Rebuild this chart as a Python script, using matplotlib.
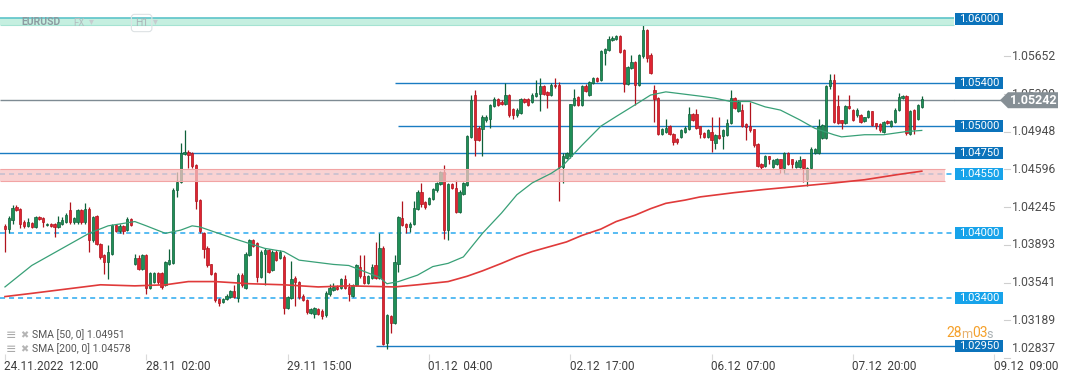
import numpy as np
import matplotlib.pyplot as plt
from matplotlib.patches import Rectangle, Polygon
from matplotlib.transforms import blended_transform_factory

plt.rcParams['font.family'] = ['Roboto', 'DejaVu Sans']

# EURUSD H1 bars from 24.11.2022 12:00, prices in pips above 1.0000
opens = [407, 404, 412, 425, 423, 411, 407, 410, 406, 415,
         414, 408, 409, 409, 406, 409, 411, 422, 411, 411,
         422, 411, 423, 394, 416, 390, 380, 373, 381, 408,
         402, 407, 403, 413, 371, 377, 367, 380, 349, 355,
         363, 363, 352, 371, 372, 440, 448, 474, 476, 475,
         464, 431, 400, 386, 371, 363, 339, 336, 339, 341,
         346, 340, 361, 349, 380, 394, 391, 359, 381, 384,
         366, 383, 377, 378, 330, 340, 358, 355, 342, 338,
         326, 325, 329, 328, 324, 343, 347, 350, 349, 357,
         350, 342, 352, 369, 360, 354, 358, 370, 358, 386,
         298, 323, 316, 371, 414, 409, 406, 409, 423, 439,
         429, 427, 432, 440, 446, 457, 403, 446, 442, 420,
         437, 445, 490, 529, 498, 497, 506, 507, 519, 525,
         523, 521, 529, 516, 510, 512, 525, 525, 523, 528,
         530, 537, 532, 529, 538, 538, 462, 470, 472, 520,
         527, 520, 537, 529, 540, 545, 543, 568, 571, 580,
         581, 584, 571, 539, 554, 560, 538, 565, 590, 566,
         534, 526, 493, 495, 500, 493, 488, 490, 495, 497,
         511, 511, 500, 494, 490, 495, 484, 492, 491, 492,
         503, 526, 514, 515, 502, 500, 497, 483, 465, 463,
         472, 462, 465, 469, 461, 475, 469, 462, 462, 469,
         451, 461, 475, 475, 489, 489, 537, 543, 519, 506,
         503, 519, 515, 510, 510, 505, 509, 514, 503, 502,
         495, 505, 500, 504, 515, 526, 528, 493, 515, 507,
         518]
highs = [409, 416, 426, 426, 424, 412, 414, 411, 416, 416,
         415, 410, 410, 410, 416, 415, 419, 429, 415, 423,
         423, 428, 425, 416, 417, 391, 381, 389, 409, 409,
         409, 408, 415, 414, 381, 380, 381, 381, 364, 364,
         364, 364, 374, 385, 442, 457, 484, 496, 478, 476,
         465, 432, 401, 388, 371, 364, 340, 340, 343, 347,
         352, 363, 363, 383, 395, 395, 392, 384, 386, 385,
         384, 384, 384, 380, 342, 374, 360, 356, 343, 339,
         330, 331, 330, 329, 346, 353, 354, 352, 358, 361,
         354, 353, 371, 380, 380, 361, 371, 392, 400, 388,
         325, 324, 380, 416, 430, 410, 411, 430, 440, 447,
         430, 434, 442, 448, 458, 464, 447, 447, 450, 440,
         448, 492, 529, 534, 500, 510, 510, 521, 527, 526,
         524, 540, 530, 517, 517, 526, 526, 526, 531, 543,
         545, 538, 533, 540, 545, 541, 475, 476, 521, 535,
         528, 538, 539, 542, 546, 546, 571, 573, 584, 584,
         585, 585, 572, 556, 566, 561, 567, 594, 591, 568,
         538, 527, 498, 507, 501, 494, 489, 497, 500, 518,
         512, 516, 500, 495, 497, 509, 493, 509, 497, 507,
         534, 527, 524, 521, 503, 523, 497, 484, 466, 473,
         472, 469, 470, 469, 476, 476, 469, 468, 472, 469,
         462, 481, 480, 507, 502, 538, 549, 549, 529, 506,
         520, 529, 516, 517, 511, 509, 515, 514, 503, 503,
         505, 506, 506, 517, 531, 529, 529, 515, 516, 521,
         528]
lows = [383, 400, 409, 421, 405, 405, 406, 405, 405, 412,
        406, 407, 406, 397, 405, 408, 410, 409, 409, 409,
        409, 409, 383, 392, 389, 376, 362, 357, 380, 401,
        400, 399, 402, 407, 370, 366, 366, 343, 348, 354,
        353, 348, 351, 370, 371, 434, 447, 473, 461, 461,
        423, 400, 377, 369, 361, 336, 332, 335, 338, 340,
        340, 336, 350, 348, 379, 387, 355, 358, 352, 363,
        365, 374, 376, 325, 329, 339, 332, 339, 337, 325,
        325, 321, 324, 320, 322, 342, 346, 347, 348, 348,
        337, 341, 351, 358, 353, 353, 357, 357, 357, 296,
        292, 307, 315, 364, 407, 400, 401, 408, 422, 425,
        423, 426, 431, 439, 445, 395, 394, 441, 419, 419,
        436, 444, 489, 472, 486, 472, 504, 498, 518, 519,
        520, 520, 509, 507, 509, 511, 522, 519, 522, 527,
        514, 529, 517, 528, 536, 430, 447, 469, 470, 519,
        519, 519, 532, 528, 539, 541, 542, 557, 570, 579,
        580, 568, 532, 538, 553, 520, 537, 564, 560, 549,
        504, 492, 492, 494, 492, 482, 483, 489, 494, 496,
        505, 497, 489, 489, 489, 476, 479, 488, 479, 491,
        502, 516, 513, 499, 487, 495, 481, 462, 460, 462,
        465, 461, 464, 456, 456, 464, 461, 461, 461, 448,
        444, 460, 474, 474, 488, 488, 535, 503, 502, 497,
        502, 516, 505, 509, 503, 504, 508, 500, 497, 495,
        494, 502, 499, 503, 514, 525, 492, 492, 493, 506,
        517]
closes = [404, 414, 424, 422, 409, 407, 411, 406, 415, 413,
          411, 409, 407, 406, 411, 412, 417, 411, 414, 422,
          411, 423, 394, 415, 390, 378, 373, 383, 408, 402,
          407, 402, 413, 408, 377, 367, 380, 349, 363, 363,
          355, 350, 373, 375, 440, 448, 475, 476, 473, 463,
          430, 402, 385, 370, 362, 338, 335, 339, 342, 346,
          341, 361, 352, 381, 394, 388, 359, 383, 384, 364,
          383, 375, 383, 330, 341, 357, 355, 341, 338, 327,
          329, 330, 325, 323, 344, 349, 350, 348, 357, 349,
          343, 352, 370, 360, 354, 360, 369, 358, 386, 297,
          324, 316, 373, 415, 408, 406, 409, 424, 439, 427,
          425, 433, 441, 447, 457, 403, 446, 442, 420, 439,
          447, 491, 524, 487, 487, 509, 509, 520, 525, 520,
          521, 529, 510, 510, 515, 525, 523, 520, 529, 531,
          537, 530, 529, 538, 537, 462, 472, 475, 521, 526,
          520, 537, 533, 541, 545, 542, 570, 572, 581, 582,
          584, 569, 539, 555, 560, 538, 566, 590, 564, 550,
          525, 493, 497, 498, 493, 485, 485, 496, 498, 511,
          506, 498, 493, 490, 496, 487, 492, 489, 496, 503,
          526, 517, 523, 500, 499, 496, 482, 463, 462, 472,
          469, 468, 469, 461, 475, 465, 465, 467, 468, 461,
          461, 479, 479, 500, 501, 537, 543, 504, 503, 503,
          519, 517, 506, 515, 504, 509, 514, 501, 500, 496,
          504, 503, 505, 515, 527, 528, 494, 514, 497, 520,
          525]

# moving averages (bar index, pips)
sma50_bars = [0, 7, 16, 22, 27, 34, 37, 42, 46, 49, 51, 60, 68, 73, 77, 86, 90,
              98, 100, 103, 108, 112, 116, 120, 125, 130, 134, 138, 143, 146,
              151, 156, 160, 165, 169, 173, 182, 186, 190, 195, 199, 203, 208,
              212, 217, 219, 225, 230, 232, 236, 240]
sma50_vals = [350, 370, 388, 400, 407, 411, 407, 400, 403, 407, 406, 395, 386,
              383, 375, 371, 370, 359, 353, 355, 361, 369, 372, 378, 400, 419,
              436, 447, 456, 463, 482, 500, 509, 520, 529, 532, 528, 526, 523,
              523, 518, 515, 506, 498, 492, 490, 492, 492, 493, 495, 496]
sma200_bars = [0, 7, 16, 25, 34, 42, 48, 55, 64, 73, 82, 90, 102, 108, 116, 121,
               125, 130, 134, 138, 143, 147, 151, 156, 160, 165, 169, 173, 178,
               182, 191, 199, 208, 217, 225, 234, 240]
sma200_vals = [341, 344, 348, 352, 351, 352, 355, 355, 353, 352, 350, 351, 350,
               352, 355, 360, 365, 372, 378, 383, 388, 392, 398, 404, 411, 417,
               423, 428, 431, 434, 438, 441, 444, 447, 450, 455, 458]

x_label_bars = [0, 37, 74, 111, 148, 185, 222, 259]
x_labels = ['24.11.2022  12:00', '28.11  02:00', '29.11  15:00', '01.12  04:00',
            '02.12  17:00', '06.12  07:00', '07.12  20:00', '09.12  09:00']
y_ticks = [1.05652, 1.05300, 1.04948, 1.04596, 1.04245, 1.03893, 1.03541,
           1.03189, 1.02837]

solid_levels = [1.0540, 1.0500, 1.0475, 1.0295]
solid_start = [102, 103, -2, 97]
dashed_levels = [1.0455, 1.0400, 1.0340]
pink_zone = [1.0449, 1.0460]
teal_zone = [1.0594, 1.0601]
last_price = 1.05242

DARK_BLUE = '#0b73bb'
LIGHT_BLUE = '#17a3ea'
GREEN, GREEN_EDGE = '#1f8f57', '#0e6039'
RED, RED_EDGE = '#df2431', '#b0131d'


def price(v):
    return 1 + np.asarray(v, dtype=float) / 10000


W, H = 1072, 382
fig = plt.figure(figsize=(W / 100, H / 100), dpi=100)
ax = fig.add_axes([0, 24 / H, 955 / W, 358 / H])
ax.set_xlim(-1.3, 248.7)
ax.set_ylim(1.02837, 1.06177)
ax.axis('off')
right = blended_transform_factory(ax.transAxes, ax.transData)
PXY = (1.06177 - 1.02837) / 358


def fx(px):
    return px / 955


# zones and levels
ax.fill_between([-1.3, 248.5], teal_zone[0], teal_zone[1], color='#bfeedd',
                alpha=0.9, lw=0, zorder=5)
ax.hlines(teal_zone[1], -1.3, 248.5, color='#5cc4c9', lw=1.2, zorder=5)
ax.hlines(teal_zone[0], -1.3, 248.5, color='#a5e3d2', lw=0.8, zorder=5)

for lv, st in zip(solid_levels, solid_start):
    ax.hlines(lv, st, 248.7, color='#1a7cc2', lw=1.0, zorder=2)
for lv in dashed_levels:
    ax.hlines(lv, -1.3, 248.7, color='#2aaaf0', lw=1.1, linestyles=(0, (3.3, 2.6)), zorder=2)

ax.fill_between([-1.3, 246], pink_zone[0], pink_zone[1], color='#f7c4c4',
                alpha=0.75, lw=0, zorder=5)
ax.hlines(pink_zone, -1.3, 246, color='#f2a4a4', lw=0.8, zorder=5)

ax.hlines(last_price, -1.3, 248.7, color='#7e8b93', lw=1.0, zorder=2)
ax.plot([1.0, fx(1001)], [last_price, last_price], color='#7e8b93', lw=1.0,
        transform=right, clip_on=False)

# candles
o, h, l, c = price(opens), price(highs), price(lows), price(closes)
idx = np.arange(len(o))
up = c >= o
lo = np.minimum(o, c)
hgt = np.maximum(np.abs(c - o), 0.00003)
ax.vlines(idx[up], l[up], h[up], color=GREEN_EDGE, lw=0.9, zorder=3)
ax.vlines(idx[~up], l[~up], h[~up], color=RED_EDGE, lw=0.9, zorder=3)
ax.bar(idx[up], hgt[up], bottom=lo[up], width=0.62, color=GREEN,
       edgecolor=GREEN_EDGE, lw=0.5, zorder=4)
ax.bar(idx[~up], hgt[~up], bottom=lo[~up], width=0.62, color=RED,
       edgecolor=RED_EDGE, lw=0.5, zorder=4)

# moving averages
ax.plot(sma50_bars, price(sma50_vals), color='#38a077', lw=0.9, zorder=6,
        solid_joinstyle='round')
ax.plot(sma200_bars, price(sma200_vals), color='#e03a3a', lw=1.2, zorder=6,
        solid_joinstyle='round')

# price labels on the right
def level_box(lv, color):
    ax.add_patch(Rectangle((1.0, lv - 6 * PXY), fx(48), 12 * PXY, transform=right,
                           fc=color, ec='none', clip_on=False, zorder=8))
    ax.text(fx(979), lv, f'{lv:.5f}', transform=right, ha='center', va='center',
            fontsize=8, color='white', clip_on=False, zorder=9)


level_box(1.06, DARK_BLUE)
for lv in solid_levels:
    level_box(lv, DARK_BLUE)
for lv in dashed_levels:
    level_box(lv, LIGHT_BLUE)

for t in y_ticks:
    ax.plot([fx(1004), fx(1010)], [t, t], color='#cfcfcf', lw=0.8,
            transform=right, clip_on=False)
    ax.text(fx(1012), t + (3 * PXY if t < 1.029 else 0), f'{t:.5f}', transform=right,
            ha='left', va='bottom' if t < 1.029 else 'center', fontsize=8.7,
            color='#4d4d4d', clip_on=False, zorder=7)

y0 = last_price
arrow = [(fx(1000), y0), (fx(1008), y0 + 8 * PXY), (fx(1058), y0 + 8 * PXY),
         (fx(1058), y0 - 8 * PXY), (fx(1008), y0 - 8 * PXY)]
ax.add_patch(Polygon(arrow, closed=True, transform=right, fc='#868f95', ec='none',
                     clip_on=False, zorder=10))
ax.text(fx(1033), y0, f'{last_price:.5f}', transform=right, ha='center', va='center',
        fontsize=9, fontweight='bold', color='white', clip_on=False, zorder=11)

# time axis
xt = ax.get_xaxis_transform()
ax.vlines(x_label_bars, -2 / 358, 4 / 358, color='#dadada', lw=0.8, transform=xt,
          clip_on=False)
for b, lab in zip(x_label_bars, x_labels):
    ax.text(b - 0.2, -8 / 358, lab, transform=xt, ha='left', va='center',
            fontsize=8.5, color='#3d3d3d', clip_on=False)

# header and legend
fig.text(21 / W, 1 - 22 / H, 'EURUSD', fontsize=7.5, fontweight='bold',
         color='#8c9ca1', va='center')
fig.text(73 / W, 1 - 23 / H, 'FX', fontsize=7, color='#b3bdc0', va='center')
fig.text(89 / W, 1 - 21 / H, '▾', fontsize=7, color='#c5cccf', va='center',
         family=['DejaVu Sans'])
fig.text(135 / W, 1 - 23 / H, 'H1', fontsize=7.5, color='#aab4b8', va='center',
         bbox=dict(boxstyle='round,pad=0.35,rounding_size=0.3', fc='none',
                   ec='#dde2e4', lw=0.8))
fig.text(153 / W, 1 - 21 / H, '▾', fontsize=7, color='#c5cccf', va='center',
         family=['DejaVu Sans'])

for yy, txt in [(335, 'SMA [50, 0] 1.04951'), (349, 'SMA [200, 0] 1.04578')]:
    fig.text(6 / W, 1 - yy / H, '≡', fontsize=9, color='#a9a9a9', va='center',
             family=['DejaVu Sans'])
    fig.text(20 / W, 1 - yy / H, '✖', fontsize=7, color='#b5b5b5', va='center',
             family=['DejaVu Sans'])
    fig.text(32 / W, 1 - yy / H, txt, fontsize=7.5, color='#555555', va='center')

# countdown to the next bar
fig.text(946 / W, 1 - 333 / H, '28', fontsize=10, color='#f5a02a', va='center')
fig.text(961 / W, 1 - 334 / H, 'm', fontsize=9, color='#e7b170', va='center')
fig.text(972 / W, 1 - 333 / H, '03', fontsize=10, color='#f5a02a', va='center')
fig.text(986 / W, 1 - 334 / H, 's', fontsize=9, color='#a9b0b3', va='center')

fig.savefig('out.png', dpi=100)
